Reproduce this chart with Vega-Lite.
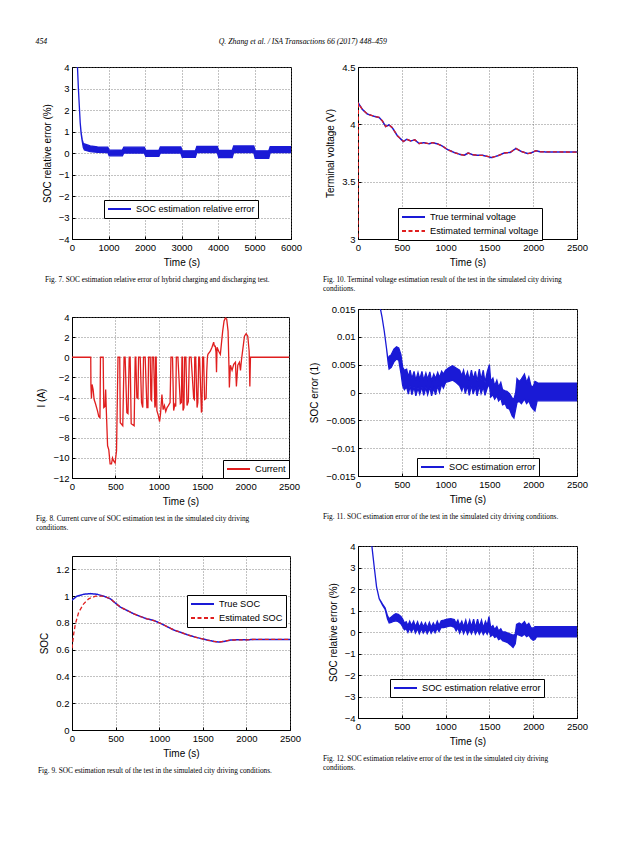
{
"$schema": "https://vega.github.io/schema/vega-lite/v6.json",
"padding": {"left": 35, "top": 37, "right": 0, "bottom": 0},
"title": {"text": "454\u2003\u2003\u2003\u2003\u2003\u2003\u2003\u2003\u2003\u2003\u2003\u2003\u2003\u2003\u2003\u2003\u2003\u2003\u2003\u2003\u2003\u2003Q. Zhang et al. / ISA Transactions 66 (2017) 448–459", "anchor": "start", "frame": "bounds", "font": "Liberation Serif", "fontStyle": "italic", "fontSize": 7.8, "fontWeight": "normal", "color": "black", "offset": 16},
"spacing": 6,
"resolve": {"scale": {"color": "independent", "strokeDash": "independent"}, "legend": {"color": "independent", "strokeDash": "independent"}},
"hconcat": [
{"vconcat": [
{"width": 219, "height": 172, "data": {"name": "f7"},
 "title": {"text": "Fig. 7. SOC estimation relative error of hybrid charging and discharging test.", "orient": "bottom", "anchor": "start", "frame": "group", "dx": -27, "offset": 8},
 "mark": {"type": "area", "clip": true, "stroke": "#1a1ad6", "strokeWidth": 1.3, "opacity": 1},
 "encoding": {
  "x": {"field": "t", "type": "quantitative", "scale": {"domain": [0, 6000], "nice": false}, "axis": {"values": [0,1000,2000,3000,4000,5000,6000], "format": "d", "title": "Time (s)"}},
  "y": {"field": "lo", "type": "quantitative", "scale": {"domain": [-4, 4], "nice": false}, "axis": {"values": [-4,-3,-2,-1,0,1,2,3,4], "title": "SOC relative error (%)"}},
  "y2": {"field": "hi"},
  "color": {"datum": "SOC estimation relative error", "scale": {"range": ["#1a1ad6"]}, "legend": {"orient": "none", "legendX": 32, "legendY": 133, "symbolStrokeColor": "#1a1ad6"}}
 }},
{"width": 217, "height": 161, "data": {"name": "f8"},
 "title": {"text": ["Fig. 8. Current curve of SOC estimation test in the simulated city driving", "conditions."], "orient": "bottom", "anchor": "start", "frame": "group", "dx": -36, "offset": 8},
 "mark": {"type": "line", "clip": true, "strokeWidth": 1.3},
 "encoding": {
  "x": {"field": "t", "type": "quantitative", "scale": {"domain": [0, 2500], "nice": false}, "axis": {"values": [0,500,1000,1500,2000,2500], "format": "d", "title": "Time (s)"}},
  "y": {"field": "i", "type": "quantitative", "scale": {"domain": [-12, 4], "nice": false}, "axis": {"values": [-12,-10,-8,-6,-4,-2,0,2,4], "title": "I (A)"}},
  "color": {"datum": "Current", "scale": {"range": ["#e01e1e"]}, "legend": {"orient": "none", "legendX": 151, "legendY": 143}}
 }},
{"width": 218, "height": 174,
 "title": {"text": "Fig. 9. SOC estimation result of the test in the simulated city driving conditions.", "orient": "bottom", "anchor": "start", "frame": "group", "dx": -34, "offset": 8},
 "data": {"name": "f9"},
 "encoding": {
  "x": {"field": "t", "type": "quantitative", "scale": {"domain": [0, 2500], "nice": false}, "axis": {"values": [0,500,1000,1500,2000,2500], "format": "d", "title": "Time (s)"}},
  "y": {"field": "v", "type": "quantitative", "scale": {"domain": [0, 1.3], "nice": false}, "axis": {"values": [0,0.2,0.4,0.6,0.8,1,1.2], "format": ".1~f", "title": "SOC"}},
  "color": {"field": "s", "type": "nominal", "scale": {"domain": ["True SOC", "Estimated SOC"], "range": ["#1a1ad6", "#e01e1e"]}, "legend": {"orient": "none", "legendX": 115, "legendY": 39}},
  "strokeDash": {"field": "s", "type": "nominal", "scale": {"domain": ["True SOC", "Estimated SOC"], "range": [[1, 0], [4, 2.5]]}, "legend": {"orient": "none", "legendX": 115, "legendY": 39}}
 },
 "layer": [
  {"transform": [{"filter": "datum.s == 'True SOC'"}], "mark": {"type": "line", "clip": true, "strokeWidth": 1.5}},
  {"transform": [{"filter": "datum.s == 'Estimated SOC'"}], "mark": {"type": "line", "clip": true, "strokeWidth": 1.3}}
 ]}
], "spacing": 78, "bounds": "flush",
 "resolve": {"scale": {"color": "independent", "strokeDash": "independent"}, "legend": {"color": "independent", "strokeDash": "independent"}}},
{"vconcat": [
{"width": 219, "height": 172,
 "title": {"text": ["Fig. 10. Terminal voltage estimation result of the test in the simulated city driving", "conditions."], "orient": "bottom", "anchor": "start", "frame": "group", "dx": -35, "offset": 8},
 "data": {"name": "f10"},
 "encoding": {
  "x": {"field": "t", "type": "quantitative", "scale": {"domain": [0, 2500], "nice": false}, "axis": {"values": [0,500,1000,1500,2000,2500], "format": "d", "title": "Time (s)"}},
  "y": {"field": "v", "type": "quantitative", "scale": {"domain": [3, 4.5], "nice": false, "zero": false}, "axis": {"values": [3,3.5,4,4.5], "format": ".1~f", "title": "Terminal voltage (V)"}},
  "color": {"field": "s", "type": "nominal", "scale": {"domain": ["True terminal voltage", "Estimated terminal voltage"], "range": ["#1a1ad6", "#e01e1e"]}, "legend": {"orient": "none", "legendX": 40, "legendY": 141}},
  "strokeDash": {"field": "s", "type": "nominal", "scale": {"domain": ["True terminal voltage", "Estimated terminal voltage"], "range": [[1, 0], [4, 2.5]]}, "legend": {"orient": "none", "legendX": 40, "legendY": 141}}
 },
 "layer": [
  {"transform": [{"filter": "datum.s == 'True terminal voltage'"}], "mark": {"type": "line", "clip": true, "strokeWidth": 1.5}},
  {"transform": [{"filter": "datum.s == 'Estimated terminal voltage'"}], "mark": {"type": "line", "clip": true, "strokeWidth": 1.3}}
 ]},
{"width": 219, "height": 167, "data": {"name": "f11"},
 "title": {"text": "Fig. 11. SOC estimation error of the test in the simulated city driving conditions.", "orient": "bottom", "anchor": "start", "frame": "group", "dx": -35, "offset": 8},
 "mark": {"type": "area", "clip": true, "stroke": "#1a1ad6", "strokeWidth": 1.3, "opacity": 1},
 "encoding": {
  "x": {"field": "t", "type": "quantitative", "scale": {"domain": [0, 2500], "nice": false}, "axis": {"values": [0,500,1000,1500,2000,2500], "format": "d", "title": "Time (s)"}},
  "y": {"field": "lo", "type": "quantitative", "scale": {"domain": [-0.015, 0.015], "nice": false}, "axis": {"values": [-0.015,-0.01,-0.005,0,0.005,0.01,0.015], "format": ".3~f", "title": "SOC error (1)"}},
  "y2": {"field": "hi"},
  "color": {"datum": "SOC estimation error", "scale": {"range": ["#1a1ad6"]}, "legend": {"orient": "none", "legendX": 59, "legendY": 149, "symbolStrokeColor": "#1a1ad6"}}
 }},
{"width": 219, "height": 172, "data": {"name": "f12"},
 "title": {"text": ["Fig. 12. SOC estimation relative error of the test in the simulated city driving", "conditions."], "orient": "bottom", "anchor": "start", "frame": "group", "dx": -35, "offset": 8},
 "mark": {"type": "area", "clip": true, "stroke": "#1a1ad6", "strokeWidth": 1.3, "opacity": 1},
 "encoding": {
  "x": {"field": "t", "type": "quantitative", "scale": {"domain": [0, 2500], "nice": false}, "axis": {"values": [0,500,1000,1500,2000,2500], "format": "d", "title": "Time (s)"}},
  "y": {"field": "lo", "type": "quantitative", "scale": {"domain": [-4, 4], "nice": false}, "axis": {"values": [-4,-3,-2,-1,0,1,2,3,4], "title": "SOC relative error (%)"}},
  "y2": {"field": "hi"},
  "color": {"datum": "SOC estimation relative error", "scale": {"range": ["#1a1ad6"]}, "legend": {"orient": "none", "legendX": 32, "legendY": 133, "symbolStrokeColor": "#1a1ad6"}}
 }}
], "spacing": 70, "bounds": "flush",
 "resolve": {"scale": {"color": "independent", "strokeDash": "independent"}, "legend": {"color": "independent", "strokeDash": "independent"}}}
],
"datasets": {
"f7": [
{"t":130,"lo":4.6,"hi":4.6},{"t":150,"lo":4.0,"hi":4.0},{"t":175,"lo":3.0,"hi":3.0},{"t":200,"lo":2.2,"hi":2.2},{"t":225,"lo":1.4,"hi":1.4},{"t":250,"lo":0.9,"hi":0.95},{"t":280,"lo":0.55,"hi":0.62},{"t":310,"lo":0.25,"hi":0.45},{"t":340,"lo":0.14,"hi":0.42},
{"t":500,"lo":0.06,"hi":0.33},{"t":700,"lo":0.03,"hi":0.28},{"t":980,"lo":0.02,"hi":0.27},{"t":1020,"lo":-0.13,"hi":0.13},{"t":1380,"lo":-0.13,"hi":0.14},{"t":1420,"lo":0.0,"hi":0.27},
{"t":1980,"lo":0.0,"hi":0.27},{"t":2020,"lo":-0.16,"hi":0.12},{"t":2380,"lo":-0.16,"hi":0.12},{"t":2420,"lo":0.0,"hi":0.28},{"t":2980,"lo":0.0,"hi":0.28},{"t":3020,"lo":-0.2,"hi":0.1},
{"t":3380,"lo":-0.2,"hi":0.1},{"t":3420,"lo":0.02,"hi":0.31},{"t":3980,"lo":0.02,"hi":0.31},{"t":4020,"lo":-0.21,"hi":0.12},{"t":4390,"lo":-0.21,"hi":0.12},{"t":4430,"lo":0.02,"hi":0.33},
{"t":4980,"lo":0.02,"hi":0.33},{"t":5020,"lo":-0.25,"hi":0.1},{"t":5390,"lo":-0.25,"hi":0.1},{"t":5430,"lo":0.02,"hi":0.3},{"t":6000,"lo":0.02,"hi":0.3}
],
"f8": [
{"t":0,"i":0},{"t":216,"i":0},{"t":218,"i":-2.8},{"t":224,"i":-4.1},{"t":231,"i":-2.7},{"t":243,"i":-3.2},{"t":255,"i":-4.2},{"t":270,"i":-4.6},{"t":293,"i":-5.3},{"t":309,"i":-5.9},{"t":322,"i":-6.0},{"t":328,"i":0},{"t":359,"i":0},
{"t":366,"i":-5.0},{"t":380,"i":-4.9},{"t":388,"i":-3.2},{"t":395,"i":-5.2},{"t":410,"i":-8.8},{"t":424,"i":-9.2},{"t":439,"i":-10.6},{"t":455,"i":-10.6},{"t":467,"i":-10.0},{"t":480,"i":-10.3},{"t":497,"i":-10.5},{"t":513,"i":-9.3},{"t":530,"i":0},
{"t":550,"i":0},{"t":556,"i":-6.5},{"t":585,"i":-6.8},{"t":600,"i":0},{"t":612,"i":0},{"t":632,"i":-5.5},{"t":645,"i":-5.6},{"t":659,"i":0},{"t":670,"i":0},{"t":682,"i":-6.6},{"t":716,"i":-6.8},{"t":728,"i":0},{"t":735,"i":0},
{"t":747,"i":-4.0},{"t":760,"i":-4.1},{"t":767,"i":0},{"t":786,"i":0},{"t":801,"i":-4.5},{"t":815,"i":-5.0},{"t":824,"i":0},{"t":843,"i":0},{"t":863,"i":-5.0},{"t":875,"i":-5.0},{"t":882,"i":0},{"t":901,"i":0},
{"t":909,"i":-4.2},{"t":917,"i":-4.3},{"t":924,"i":0},{"t":940,"i":0},{"t":955,"i":-5.0},{"t":960,"i":-4.8},{"t":963,"i":0},{"t":970,"i":0},{"t":978,"i":-5.3},{"t":995,"i":-5.8},{"t":1009,"i":-6.4},{"t":1020,"i":-5.6},
{"t":1036,"i":-3.7},{"t":1050,"i":-5.2},{"t":1065,"i":-4.8},{"t":1080,"i":-5.4},{"t":1095,"i":-5.0},{"t":1110,"i":-4.8},{"t":1130,"i":-4.5},{"t":1140,"i":0},{"t":1158,"i":0},{"t":1171,"i":-5.3},{"t":1185,"i":-4.7},{"t":1195,"i":-4.9},
{"t":1202,"i":0},{"t":1220,"i":0},{"t":1248,"i":-4.6},{"t":1260,"i":-4.5},{"t":1267,"i":0},{"t":1273,"i":0},{"t":1279,"i":-5.3},{"t":1290,"i":-5.0},{"t":1298,"i":0},{"t":1312,"i":0},{"t":1325,"i":-4.8},{"t":1340,"i":-4.4},
{"t":1352,"i":0},{"t":1372,"i":0},{"t":1402,"i":-4.1},{"t":1410,"i":-4.2},{"t":1414,"i":0},{"t":1425,"i":0},{"t":1441,"i":-5.0},{"t":1450,"i":-4.5},{"t":1460,"i":0},{"t":1470,"i":0},{"t":1491,"i":-5.5},{"t":1497,"i":-5.3},
{"t":1505,"i":0},{"t":1516,"i":0},{"t":1528,"i":-4.2},{"t":1545,"i":-4.1},{"t":1552,"i":-1.5},{"t":1560,"i":0},{"t":1566,"i":0.3},{"t":1593,"i":0.6},{"t":1613,"i":1.0},{"t":1632,"i":1.5},{"t":1640,"i":1.1},{"t":1651,"i":1.1},
{"t":1659,"i":0.5},{"t":1665,"i":-1.5},{"t":1671,"i":1.0},{"t":1690,"i":0.6},{"t":1709,"i":0.3},{"t":1721,"i":1.3},{"t":1736,"i":2.6},{"t":1752,"i":3.6},{"t":1767,"i":3.9},{"t":1782,"i":3.8},{"t":1798,"i":2.6},
{"t":1809,"i":-1.2},{"t":1813,"i":-3.0},{"t":1825,"i":-0.8},{"t":1844,"i":-1.3},{"t":1863,"i":-0.7},{"t":1883,"i":-0.5},{"t":1894,"i":-2.9},{"t":1910,"i":-0.8},{"t":1929,"i":-0.5},{"t":1941,"i":-1.3},{"t":1952,"i":-0.3},
{"t":1971,"i":1.0},{"t":1987,"i":2.1},{"t":2006,"i":2.35},{"t":2025,"i":2.1},{"t":2041,"i":0.6},{"t":2049,"i":-2.9},{"t":2056,"i":0},{"t":2500,"i":0}
],
"f9": [
{"s":"True SOC","t":0,"v":0.97},{"s":"True SOC","t":57,"v":1.0},{"s":"True SOC","t":134,"v":1.014},{"s":"True SOC","t":211,"v":1.019},{"s":"True SOC","t":287,"v":1.014},{"s":"True SOC","t":364,"v":1.0},{"s":"True SOC","t":440,"v":0.98},
{"s":"True SOC","t":498,"v":0.948},{"s":"True SOC","t":555,"v":0.918},{"s":"True SOC","t":632,"v":0.893},{"s":"True SOC","t":708,"v":0.868},{"s":"True SOC","t":785,"v":0.848},{"s":"True SOC","t":861,"v":0.83},{"s":"True SOC","t":938,"v":0.818},
{"s":"True SOC","t":1015,"v":0.797},{"s":"True SOC","t":1091,"v":0.772},{"s":"True SOC","t":1168,"v":0.747},{"s":"True SOC","t":1244,"v":0.73},{"s":"True SOC","t":1321,"v":0.712},{"s":"True SOC","t":1397,"v":0.697},{"s":"True SOC","t":1474,"v":0.684},
{"s":"True SOC","t":1551,"v":0.672},{"s":"True SOC","t":1627,"v":0.662},{"s":"True SOC","t":1685,"v":0.657},{"s":"True SOC","t":1742,"v":0.662},{"s":"True SOC","t":1819,"v":0.672},{"s":"True SOC","t":1895,"v":0.674},{"s":"True SOC","t":2010,"v":0.674},
{"s":"True SOC","t":2087,"v":0.677},{"s":"True SOC","t":2500,"v":0.677},
{"s":"Estimated SOC","t":0,"v":0.61},{"s":"Estimated SOC","t":20,"v":0.72},{"s":"Estimated SOC","t":38,"v":0.79},{"s":"Estimated SOC","t":77,"v":0.88},{"s":"Estimated SOC","t":134,"v":0.943},{"s":"Estimated SOC","t":191,"v":0.98},
{"s":"Estimated SOC","t":268,"v":1.0},{"s":"Estimated SOC","t":364,"v":1.0},{"s":"Estimated SOC","t":440,"v":0.98},{"s":"Estimated SOC","t":498,"v":0.948},{"s":"Estimated SOC","t":555,"v":0.918},{"s":"Estimated SOC","t":632,"v":0.893},
{"s":"Estimated SOC","t":708,"v":0.868},{"s":"Estimated SOC","t":785,"v":0.848},{"s":"Estimated SOC","t":861,"v":0.83},{"s":"Estimated SOC","t":938,"v":0.818},{"s":"Estimated SOC","t":1015,"v":0.797},{"s":"Estimated SOC","t":1091,"v":0.772},
{"s":"Estimated SOC","t":1168,"v":0.747},{"s":"Estimated SOC","t":1244,"v":0.73},{"s":"Estimated SOC","t":1321,"v":0.712},{"s":"Estimated SOC","t":1397,"v":0.697},{"s":"Estimated SOC","t":1474,"v":0.684},{"s":"Estimated SOC","t":1551,"v":0.672},
{"s":"Estimated SOC","t":1627,"v":0.662},{"s":"Estimated SOC","t":1685,"v":0.657},{"s":"Estimated SOC","t":1742,"v":0.662},{"s":"Estimated SOC","t":1819,"v":0.672},{"s":"Estimated SOC","t":1895,"v":0.674},{"s":"Estimated SOC","t":2010,"v":0.674},
{"s":"Estimated SOC","t":2087,"v":0.677},{"s":"Estimated SOC","t":2500,"v":0.677}
],
"f10": [
{"s":"True terminal voltage","t":0,"v":4.19},{"s":"True terminal voltage","t":50,"v":4.13},{"s":"True terminal voltage","t":107,"v":4.09},{"s":"True terminal voltage","t":183,"v":4.07},{"s":"True terminal voltage","t":240,"v":4.06},
{"s":"True terminal voltage","t":278,"v":4.03},{"s":"True terminal voltage","t":316,"v":3.98},{"s":"True terminal voltage","t":354,"v":3.995},{"s":"True terminal voltage","t":392,"v":3.97},{"s":"True terminal voltage","t":450,"v":3.9},
{"s":"True terminal voltage","t":518,"v":3.85},{"s":"True terminal voltage","t":556,"v":3.87},{"s":"True terminal voltage","t":602,"v":3.855},{"s":"True terminal voltage","t":648,"v":3.865},{"s":"True terminal voltage","t":697,"v":3.833},
{"s":"True terminal voltage","t":755,"v":3.84},{"s":"True terminal voltage","t":812,"v":3.83},{"s":"True terminal voltage","t":850,"v":3.84},{"s":"True terminal voltage","t":907,"v":3.83},{"s":"True terminal voltage","t":964,"v":3.81},
{"s":"True terminal voltage","t":1021,"v":3.78},{"s":"True terminal voltage","t":1098,"v":3.755},{"s":"True terminal voltage","t":1155,"v":3.74},{"s":"True terminal voltage","t":1212,"v":3.73},{"s":"True terminal voltage","t":1258,"v":3.75},
{"s":"True terminal voltage","t":1307,"v":3.735},{"s":"True terminal voltage","t":1364,"v":3.73},{"s":"True terminal voltage","t":1421,"v":3.73},{"s":"True terminal voltage","t":1479,"v":3.72},{"s":"True terminal voltage","t":1524,"v":3.71},
{"s":"True terminal voltage","t":1593,"v":3.725},{"s":"True terminal voltage","t":1669,"v":3.75},{"s":"True terminal voltage","t":1738,"v":3.755},{"s":"True terminal voltage","t":1803,"v":3.79},{"s":"True terminal voltage","t":1860,"v":3.765},
{"s":"True terminal voltage","t":1936,"v":3.745},{"s":"True terminal voltage","t":1974,"v":3.75},{"s":"True terminal voltage","t":2031,"v":3.77},{"s":"True terminal voltage","t":2088,"v":3.76},{"s":"True terminal voltage","t":2500,"v":3.758},
{"s":"Estimated terminal voltage","t":0,"v":2.9},{"s":"Estimated terminal voltage","t":4,"v":4.18},{"s":"Estimated terminal voltage","t":50,"v":4.13},{"s":"Estimated terminal voltage","t":107,"v":4.09},{"s":"Estimated terminal voltage","t":183,"v":4.07},
{"s":"Estimated terminal voltage","t":240,"v":4.06},{"s":"Estimated terminal voltage","t":278,"v":4.03},{"s":"Estimated terminal voltage","t":316,"v":3.98},{"s":"Estimated terminal voltage","t":354,"v":3.995},{"s":"Estimated terminal voltage","t":392,"v":3.97},
{"s":"Estimated terminal voltage","t":450,"v":3.9},{"s":"Estimated terminal voltage","t":518,"v":3.85},{"s":"Estimated terminal voltage","t":556,"v":3.87},{"s":"Estimated terminal voltage","t":602,"v":3.855},{"s":"Estimated terminal voltage","t":648,"v":3.865},
{"s":"Estimated terminal voltage","t":697,"v":3.833},{"s":"Estimated terminal voltage","t":755,"v":3.84},{"s":"Estimated terminal voltage","t":812,"v":3.83},{"s":"Estimated terminal voltage","t":850,"v":3.84},{"s":"Estimated terminal voltage","t":907,"v":3.83},
{"s":"Estimated terminal voltage","t":964,"v":3.81},{"s":"Estimated terminal voltage","t":1021,"v":3.78},{"s":"Estimated terminal voltage","t":1098,"v":3.755},{"s":"Estimated terminal voltage","t":1155,"v":3.74},{"s":"Estimated terminal voltage","t":1212,"v":3.73},
{"s":"Estimated terminal voltage","t":1258,"v":3.75},{"s":"Estimated terminal voltage","t":1307,"v":3.735},{"s":"Estimated terminal voltage","t":1364,"v":3.73},{"s":"Estimated terminal voltage","t":1421,"v":3.73},{"s":"Estimated terminal voltage","t":1479,"v":3.72},
{"s":"Estimated terminal voltage","t":1524,"v":3.71},{"s":"Estimated terminal voltage","t":1593,"v":3.725},{"s":"Estimated terminal voltage","t":1669,"v":3.75},{"s":"Estimated terminal voltage","t":1738,"v":3.755},{"s":"Estimated terminal voltage","t":1803,"v":3.79},
{"s":"Estimated terminal voltage","t":1860,"v":3.765},{"s":"Estimated terminal voltage","t":1936,"v":3.745},{"s":"Estimated terminal voltage","t":1974,"v":3.75},{"s":"Estimated terminal voltage","t":2031,"v":3.77},{"s":"Estimated terminal voltage","t":2088,"v":3.76},
{"s":"Estimated terminal voltage","t":2500,"v":3.758}
],
"f11": [
{"t":250,"lo":0.0155,"hi":0.0155},{"t":275,"lo":0.0135,"hi":0.0135},{"t":300,"lo":0.011,"hi":0.011},{"t":325,"lo":0.008,"hi":0.008},{"t":345,"lo":0.0052,"hi":0.0055},{"t":355,"lo":0.0042,"hi":0.0065},
{"t":380,"lo":0.0045,"hi":0.0068},{"t":410,"lo":0.0055,"hi":0.0078},{"t":440,"lo":0.006,"hi":0.0082},{"t":465,"lo":0.0058,"hi":0.008},{"t":490,"lo":0.0035,"hi":0.0068},{"t":510,"lo":0.0012,"hi":0.0045},{"t":530,"lo":0.0005,"hi":0.004},
{"t":555,"lo":0.001,"hi":0.0042},{"t":575,"lo":-0.0003,"hi":0.0028},{"t":595,"lo":0.0012,"hi":0.004},{"t":615,"lo":-0.0004,"hi":0.0025},{"t":640,"lo":0.001,"hi":0.0038},{"t":660,"lo":-0.0006,"hi":0.0022},{"t":685,"lo":0.0008,"hi":0.0036},
{"t":705,"lo":-0.0003,"hi":0.0024},{"t":730,"lo":0.001,"hi":0.0038},{"t":750,"lo":-0.0005,"hi":0.0022},{"t":775,"lo":0.0009,"hi":0.0035},{"t":795,"lo":-0.0004,"hi":0.0024},{"t":820,"lo":0.001,"hi":0.0037},{"t":840,"lo":-0.0006,"hi":0.0021},
{"t":865,"lo":0.0008,"hi":0.0033},{"t":885,"lo":-0.0004,"hi":0.0025},{"t":910,"lo":0.0012,"hi":0.0036},{"t":930,"lo":0.0,"hi":0.0027},{"t":955,"lo":0.0015,"hi":0.0038},{"t":975,"lo":0.0008,"hi":0.0033},{"t":1000,"lo":0.0018,"hi":0.004},
{"t":1040,"lo":0.002,"hi":0.0045},{"t":1080,"lo":0.0022,"hi":0.0048},{"t":1120,"lo":0.0018,"hi":0.0044},{"t":1160,"lo":0.0012,"hi":0.004},{"t":1185,"lo":0.0003,"hi":0.003},{"t":1205,"lo":0.0014,"hi":0.004},{"t":1225,"lo":-0.0002,"hi":0.0026},
{"t":1250,"lo":0.0012,"hi":0.0037},{"t":1270,"lo":-0.0005,"hi":0.0022},{"t":1295,"lo":0.0013,"hi":0.004},{"t":1315,"lo":-0.0003,"hi":0.0024},{"t":1340,"lo":0.001,"hi":0.0038},{"t":1360,"lo":-0.0006,"hi":0.002},{"t":1385,"lo":0.0012,"hi":0.0042},
{"t":1405,"lo":-0.0002,"hi":0.0023},{"t":1430,"lo":0.001,"hi":0.004},{"t":1450,"lo":-0.0005,"hi":0.0018},{"t":1475,"lo":0.0008,"hi":0.0037},{"t":1500,"lo":0.0015,"hi":0.005},{"t":1515,"lo":-0.0008,"hi":0.002},{"t":1540,"lo":-0.0004,"hi":0.0026},
{"t":1560,"lo":-0.0012,"hi":0.0012},{"t":1585,"lo":-0.0006,"hi":0.0022},{"t":1605,"lo":-0.0015,"hi":0.001},{"t":1630,"lo":-0.001,"hi":0.0018},{"t":1650,"lo":-0.0022,"hi":0.0005},{"t":1680,"lo":-0.002,"hi":0.0003},{"t":1700,"lo":-0.0028,"hi":0.0002},
{"t":1730,"lo":-0.003,"hi":-0.0002},{"t":1760,"lo":-0.0042,"hi":-0.001},{"t":1780,"lo":-0.0046,"hi":-0.0012},{"t":1800,"lo":-0.003,"hi":0.0},{"t":1815,"lo":-0.0018,"hi":0.0025},{"t":1840,"lo":-0.0016,"hi":0.002},{"t":1865,"lo":-0.002,"hi":0.0024},
{"t":1900,"lo":-0.0012,"hi":0.0033},{"t":1925,"lo":-0.002,"hi":0.0018},{"t":1950,"lo":-0.0015,"hi":0.0028},{"t":1975,"lo":-0.0025,"hi":0.0012},{"t":2000,"lo":-0.003,"hi":0.001},{"t":2020,"lo":-0.0033,"hi":0.002},{"t":2045,"lo":-0.0015,"hi":0.0018},
{"t":2050,"lo":-0.0015,"hi":0.0017},{"t":2500,"lo":-0.0015,"hi":0.0017}
],
"f12": [
{"t":150,"lo":4.3,"hi":4.3},{"t":186,"lo":3.0,"hi":3.0},{"t":212,"lo":2.1,"hi":2.1},{"t":242,"lo":1.55,"hi":1.55},{"t":280,"lo":1.25,"hi":1.3},{"t":310,"lo":1.05,"hi":1.12},{"t":337,"lo":0.6,"hi":0.75},{"t":356,"lo":0.42,"hi":0.62},
{"t":380,"lo":0.45,"hi":0.7},{"t":410,"lo":0.5,"hi":0.8},{"t":432,"lo":0.52,"hi":0.85},{"t":460,"lo":0.48,"hi":0.82},{"t":490,"lo":0.38,"hi":0.72},{"t":510,"lo":0.25,"hi":0.6},{"t":530,"lo":0.1,"hi":0.42},{"t":550,"lo":0.15,"hi":0.48},
{"t":570,"lo":-0.02,"hi":0.3},{"t":590,"lo":0.18,"hi":0.5},{"t":610,"lo":0.0,"hi":0.3},{"t":635,"lo":0.2,"hi":0.5},{"t":655,"lo":-0.05,"hi":0.25},{"t":680,"lo":0.15,"hi":0.47},{"t":700,"lo":-0.08,"hi":0.22},{"t":725,"lo":0.15,"hi":0.45},
{"t":745,"lo":-0.05,"hi":0.25},{"t":770,"lo":0.12,"hi":0.43},{"t":790,"lo":-0.08,"hi":0.2},{"t":815,"lo":0.14,"hi":0.45},{"t":835,"lo":-0.06,"hi":0.22},{"t":860,"lo":0.12,"hi":0.42},{"t":880,"lo":-0.04,"hi":0.25},{"t":905,"lo":0.18,"hi":0.5},
{"t":925,"lo":0.02,"hi":0.3},{"t":950,"lo":0.22,"hi":0.52},{"t":980,"lo":0.2,"hi":0.55},{"t":1020,"lo":0.25,"hi":0.6},{"t":1060,"lo":0.28,"hi":0.62},{"t":1100,"lo":0.22,"hi":0.58},{"t":1120,"lo":0.05,"hi":0.4},{"t":1140,"lo":0.2,"hi":0.55},
{"t":1160,"lo":-0.05,"hi":0.3},{"t":1185,"lo":0.18,"hi":0.5},{"t":1205,"lo":-0.08,"hi":0.25},{"t":1230,"lo":0.15,"hi":0.55},{"t":1250,"lo":-0.1,"hi":0.22},{"t":1275,"lo":0.12,"hi":0.55},{"t":1295,"lo":-0.08,"hi":0.25},{"t":1320,"lo":0.15,"hi":0.6},
{"t":1340,"lo":-0.1,"hi":0.2},{"t":1365,"lo":0.1,"hi":0.6},{"t":1385,"lo":-0.1,"hi":0.25},{"t":1410,"lo":0.1,"hi":0.55},{"t":1430,"lo":-0.12,"hi":0.2},{"t":1455,"lo":0.05,"hi":0.5},{"t":1475,"lo":-0.1,"hi":0.3},{"t":1495,"lo":0.1,"hi":0.72},
{"t":1515,"lo":-0.2,"hi":0.2},{"t":1540,"lo":-0.12,"hi":0.3},{"t":1560,"lo":-0.25,"hi":0.12},{"t":1585,"lo":-0.2,"hi":0.25},{"t":1605,"lo":-0.35,"hi":0.05},{"t":1630,"lo":-0.3,"hi":0.15},{"t":1650,"lo":-0.4,"hi":0.0},{"t":1680,"lo":-0.45,"hi":0.0},
{"t":1710,"lo":-0.5,"hi":-0.05},{"t":1740,"lo":-0.6,"hi":-0.1},{"t":1770,"lo":-0.72,"hi":-0.15},{"t":1795,"lo":-0.55,"hi":-0.1},{"t":1810,"lo":-0.1,"hi":0.35},{"t":1840,"lo":-0.15,"hi":0.42},{"t":1870,"lo":-0.2,"hi":0.35},{"t":1900,"lo":-0.1,"hi":0.48},
{"t":1925,"lo":-0.22,"hi":0.3},{"t":1950,"lo":-0.15,"hi":0.4},{"t":1975,"lo":-0.3,"hi":0.2},{"t":2000,"lo":-0.38,"hi":0.18},{"t":2020,"lo":-0.35,"hi":0.25},{"t":2040,"lo":-0.22,"hi":0.25},{"t":2500,"lo":-0.22,"hi":0.25}
]
},
"config": {
"background": "white",
"font": "Liberation Sans",
"view": {"stroke": "black", "strokeWidth": 1},
"axis": {"domainColor": "black", "domainWidth": 1, "labelColor": "black", "labelFont": "Liberation Sans", "labelFontSize": 9.5, "titleColor": "black", "titleFont": "Liberation Sans", "titleFontSize": 10, "titleFontWeight": "normal", "grid": true, "gridColor": "#666666", "gridDash": [1, 2], "gridWidth": 0.8, "ticks": true, "tickColor": "black", "tickSize": -3, "labelPadding": 6, "titlePadding": 6, "labelFlush": false, "labelOverlap": false},
"legend": {"symbolType": "M-1,0H3.6", "symbolSize": 100, "symbolStrokeWidth": 2, "fillColor": "white", "strokeColor": "black", "padding": 3, "labelFont": "Liberation Sans", "labelFontSize": 9.2, "labelColor": "black", "rowPadding": 2, "labelOffset": 17, "cornerRadius": 0, "labelLimit": 300, "title": null},
"title": {"font": "Liberation Serif", "fontSize": 7.3, "fontWeight": "normal", "color": "black", "lineHeight": 9}
}
}
